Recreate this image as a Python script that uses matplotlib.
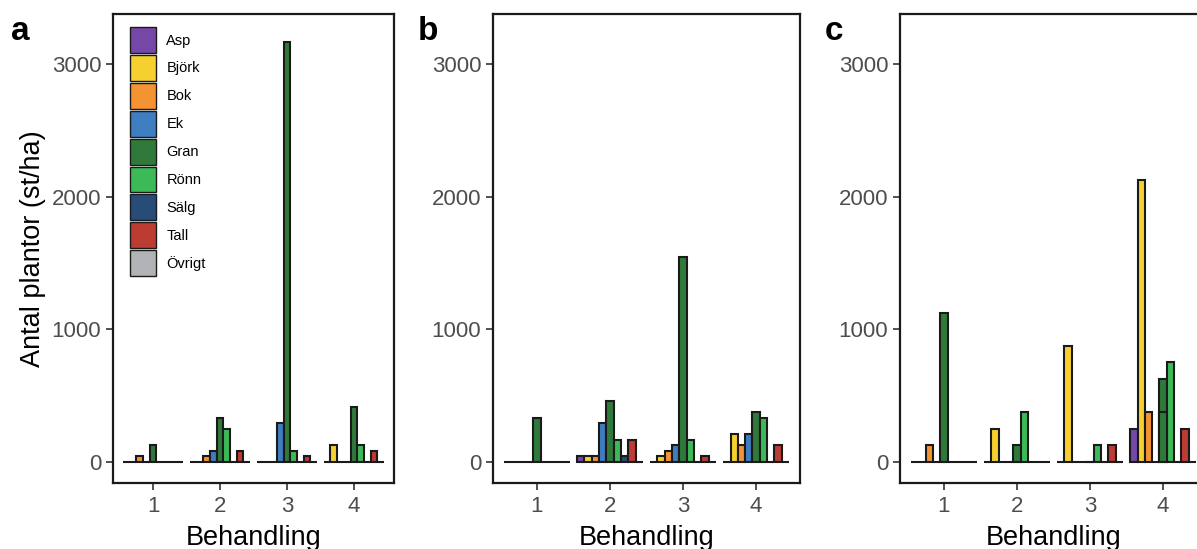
import numpy as np
import matplotlib
matplotlib.use('Agg')
import matplotlib.pyplot as plt
from matplotlib.patches import Patch

plt.rcParams['font.family'] = ['Liberation Sans', 'DejaVu Sans']

species = ['Asp', 'Björk', 'Bok', 'Ek', 'Gran', 'Rönn', 'Sälg', 'Tall', 'Övrigt']
colors = ['#7548A8', '#F6D02F', '#F39331', '#3F7DC1', '#2F7A3B',
          '#3DBA58', '#264C78', '#BC3B33', '#B1B3B6']
behandling = [1, 2, 3, 4]

# rows = behandling 1-4, columns = species (st/ha)
vals_a = [[0, 0, 42, 0, 125, 0, 0, 0, 0],
          [0, 0, 42, 83, 333, 250, 0, 83, 0],
          [0, 0, 0, 292, 3167, 83, 0, 42, 0],
          [0, 125, 0, 0, 417, 125, 0, 83, 0]]
vals_b = [[0, 0, 0, 0, 333, 0, 0, 0, 0],
          [42, 42, 42, 292, 458, 167, 42, 167, 0],
          [0, 42, 83, 125, 1542, 167, 0, 42, 0],
          [0, 208, 125, 208, 375, 333, 0, 125, 0]]
vals_c = [[0, 0, 125, 0, 1125, 0, 0, 0, 0],
          [0, 250, 0, 0, 125, 375, 0, 0, 0],
          [0, 875, 0, 0, 0, 125, 0, 125, 0],
          [250, 2125, 375, 0, 625, 750, 0, 250, 0]]
# second (overlapping) Gran row in panel c, behandling 4
gran_c_extra = [0, 0, 0, 375]

panels = [('a', vals_a), ('b', vals_b), ('c', vals_c)]
# left edge, width, letter x (pixels)
positions = [[113, 281, 20], [493, 307, 428], [900, 307, 834]]

W, H = 1197, 549
fig = plt.figure(figsize=(W / 100, H / 100), dpi=100)

bw = 0.1
for (letter, vals), (x0, w, lx) in zip(panels, positions):
    ax = fig.add_axes([x0 / W, 1 - 483 / H, w / W, (483 - 14) / H])
    vals = np.array(vals)
    for j, sp in enumerate(species):
        xs = np.array(behandling) - 0.4 + bw * j
        ax.bar(xs, vals[:, j], width=bw, color=colors[j], edgecolor='#1a1a1a',
               linewidth=1.5, zorder=2)
    if letter == 'c':
        xs = np.array(behandling) - 0.4 + bw * 4
        ax.bar(xs, gran_c_extra, width=bw, color=colors[4], edgecolor='#1a1a1a',
               linewidth=1.5, zorder=3)
    ax.set_xlim(0.4, 4.6)
    ax.set_ylim(-158, 3375)
    ax.set_xticks(behandling)
    ax.set_yticks([0, 1000, 2000, 3000])
    ax.tick_params(labelsize=16, colors='#333333', labelcolor='#4D4D4D',
                   length=5, width=1.2)
    ax.tick_params(axis='x', pad=4)
    for s in ax.spines.values():
        s.set_linewidth(1.6)
        s.set_color('#1a1a1a')
    ax.set_xlabel('Behandling', fontsize=19.5, labelpad=6)
    if letter == 'a':
        ax.set_ylabel('Antal plantor (st/ha)', fontsize=19.5, labelpad=4)
        handles = [Patch(facecolor=c, edgecolor='#1a1a1a', linewidth=1.0)
                   for c in colors]
        ax.legend(handles, species, loc='upper left', bbox_to_anchor=(0.06, 0.972),
                  frameon=False, fontsize=10.5, handlelength=1.8, handleheight=2.35,
                  labelspacing=0.14, handletextpad=0.7, borderpad=0,
                  borderaxespad=0)
    fig.text(lx / W, 1 - 31 / H, letter, fontsize=24, fontweight='bold',
             va='center', ha='center')

fig.savefig('out.png', dpi=100)
